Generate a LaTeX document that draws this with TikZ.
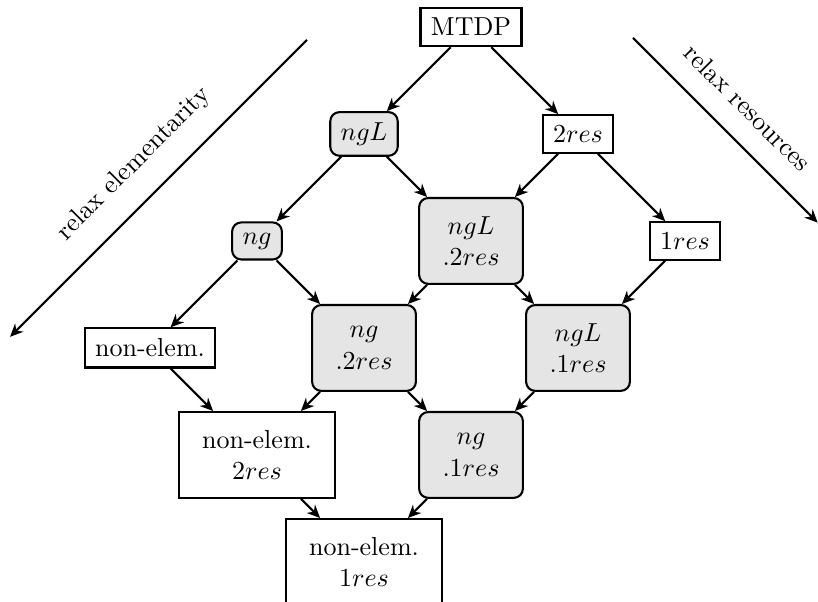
\documentclass[tikz,border=0pt]{standalone}
\usepackage{amsmath,amssymb}
\usepackage{xcolor}
\usetikzlibrary{positioning,arrows.meta}

\begin{document}
\begin{tikzpicture}[x=1.446cm,y=1.446cm,
		plainbox/.style={draw, thick, inner sep=4pt},
		shadedbox/.style={plainbox, fill=gray!20, rounded corners=3.5pt},
		tallbox/.style={align=center, inner xsep=9pt, minimum height=33pt},
		>={Stealth[length=5pt,width=4.5pt]}]
				\useasboundingbox (-1.402,-0.374) rectangle (6.243,5.252);
				
				\node[plainbox] (mtdp) at (3,5) {MTDP};
				\node[shadedbox] (ngL) at (2,4) {$ngL$};
				\node[plainbox] (res2) at (4,4) {$2res$};
				\node[shadedbox] (ng) at (1,3) {$ng$};
				\node[shadedbox, tallbox] (ngLres2) at (3,3) {$ngL$\\$.2res$};
				\node[plainbox] (res1) at (5,3) {$1res$};
				\node[plainbox] (nonelem) at (0,2) {non-elem.};
				\node[shadedbox, tallbox] (ngres2) at (2,2) {$ng$\\$.2res$};
				\node[shadedbox, tallbox] (ngLres1) at (4,2) {$ngL$\\$.1res$};
				\node[plainbox, tallbox] (nonelemres2) at (1,1) {non-elem.\\$2res$};
				\node[shadedbox, tallbox] (ngres1) at (3,1) {$ng$\\$.1res$};
				\node[plainbox, tallbox] (nonelemres1) at (2,0) {non-elem.\\$1res$};
				
				\draw[->, thick] (mtdp) -- (ngL);
				\draw[->, thick] (mtdp) -- (res2);
				\draw[->, thick] (ngL) -- (ng);
				\draw[->, thick] (ngL) -- (ngLres2);
				\draw[->, thick] (res2) -- (ngLres2);
				\draw[->, thick] (res2) -- (res1);
				\draw[->, thick] (ng) -- (nonelem);
				\draw[->, thick] (ng) -- (ngres2);
				\draw[->, thick] (ngLres2) -- (ngres2);
				\draw[->, thick] (ngLres2) -- (ngLres1);
				\draw[->, thick] (res1) -- (ngLres1);
				\draw[->, thick] (nonelem) -- (nonelemres2);
				\draw[->, thick] (ngres2) -- (nonelemres2);
				\draw[->, thick] (ngres2) -- (ngres1);
				\draw[->, thick] (ngLres1) -- (ngres1);
				\draw[->, thick] (nonelemres2) -- (nonelemres1);
				\draw[->, thick] (ngres1) -- (nonelemres1);
				
				% direction arrows
				\coordinate (elemstart) at (1.467,4.879);
				\coordinate (elemend) at (-1.308,2.104);
				\coordinate (resstart) at (4.514,4.897);
				\coordinate (resend) at (6.24,3.171);
				\draw[->, thick] (elemstart) -- (elemend) node[midway, sloped, above=5pt] {relax elementarity};
				\draw[->, thick] (resstart) -- (resend) node[midway, sloped, above=5pt] {relax resources};
			\end{tikzpicture}
\end{document}
